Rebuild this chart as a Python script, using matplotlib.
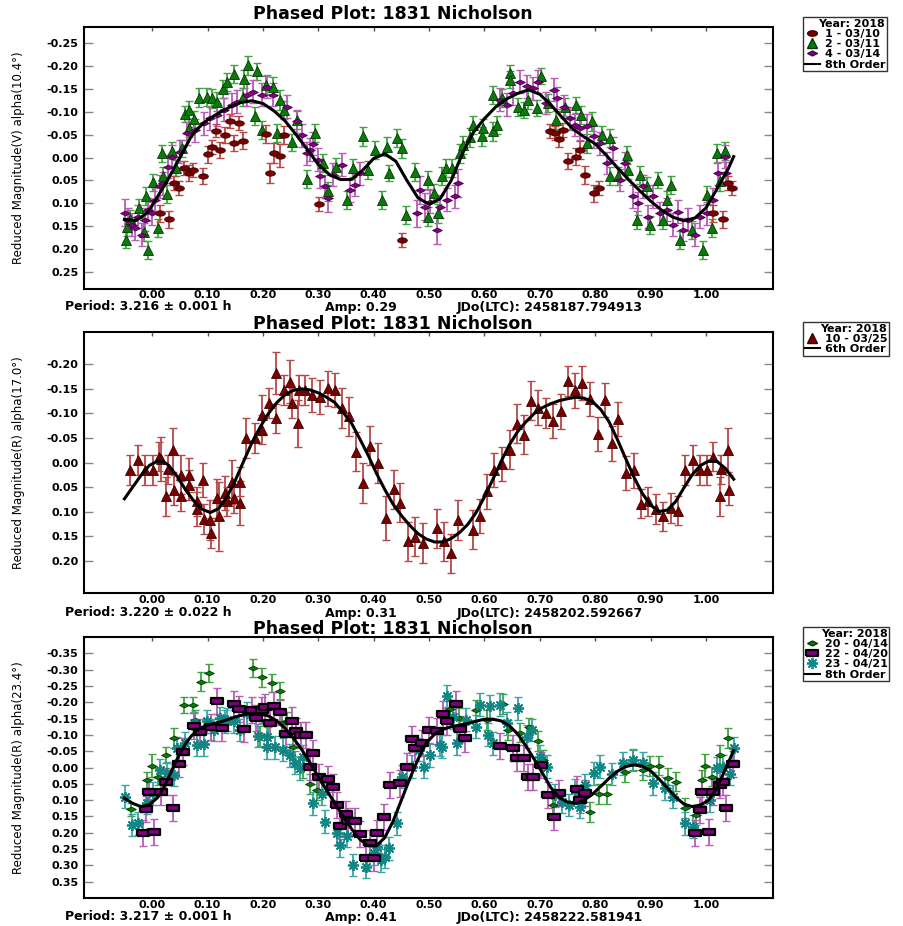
import numpy as np
import matplotlib
matplotlib.use("Agg")
import matplotlib.pyplot as plt
from matplotlib.lines import Line2D

plt.rcParams['font.family'] = ['DejaVu Sans']
plt.rcParams['font.weight'] = 'bold'

title = "Phased Plot: 1831 Nicholson"

# ---------- panel 1 (V, 10.4 deg) ----------
p1_red = [  # 1 - 03/10  (phase, mag, err)
    (0.014, 0.122, 0.018), (0.031, 0.135, 0.018), (0.039, 0.056, 0.015), (0.048, 0.067, 0.015),
    (0.057, 0.023, 0.015), (0.066, 0.034, 0.018), (0.073, 0.027, 0.015), (0.091, 0.040, 0.018),
    (0.100, -0.007, 0.018), (0.108, -0.023, 0.015), (0.123, -0.017, 0.018), (0.116, -0.059, 0.015),
    (0.132, -0.049, 0.018), (0.141, -0.080, 0.015), (0.147, -0.032, 0.018), (0.156, -0.075, 0.015),
    (0.164, -0.037, 0.018), (0.206, -0.052, 0.020), (0.213, 0.034, 0.022), (0.220, -0.009, 0.022),
    (0.230, -0.004, 0.025), (0.238, -0.049, 0.020), (0.302, 0.102, 0.015), (0.452, 0.180, 0.015),
    (0.719, -0.058, 0.015), (0.727, -0.053, 0.015), (0.735, -0.040, 0.018), (0.742, -0.060, 0.015),
    (0.750, 0.007, 0.018), (0.765, -0.002, 0.018), (0.773, -0.017, 0.020), (0.782, 0.038, 0.020),
    (0.797, 0.078, 0.018), (0.806, 0.067, 0.015), (1.013, 0.122, 0.018), (1.031, 0.135, 0.018),
    (1.039, 0.056, 0.015), (1.047, 0.067, 0.015),
]
p1_green = [  # 2 - 03/11
    (-0.048, 0.180, 0.018), (-0.046, 0.152, 0.020), (-0.040, 0.135, 0.020), (-0.023, 0.111, 0.020),
    (-0.014, 0.162, 0.020), (-0.007, 0.202, 0.020), (0.010, 0.154, 0.020), (-0.011, 0.084, 0.020),
    (0.002, 0.054, 0.018), (0.017, -0.009, 0.018), (0.035, -0.015, 0.018), (0.019, 0.040, 0.020),
    (0.026, 0.079, 0.020), (0.043, 0.023, 0.018), (0.054, -0.020, 0.018), (0.060, -0.095, 0.018),
    (0.067, -0.104, 0.020), (0.066, -0.064, 0.020), (0.075, -0.084, 0.018), (0.084, -0.131, 0.020),
    (0.099, -0.132, 0.020), (0.108, -0.129, 0.020), (0.117, -0.122, 0.020), (0.128, -0.149, 0.020),
    (0.135, -0.165, 0.020), (0.148, -0.183, 0.020), (0.165, -0.172, 0.020), (0.174, -0.201, 0.020),
    (0.189, -0.188, 0.018), (0.164, -0.132, 0.020), (0.186, -0.091, 0.020), (0.198, -0.060, 0.020),
    (0.205, -0.159, 0.020), (0.218, -0.155, 0.020), (0.226, -0.053, 0.020), (0.231, -0.126, 0.022),
    (0.238, -0.104, 0.020), (0.253, -0.033, 0.018), (0.261, -0.082, 0.020), (0.279, 0.047, 0.020),
    (0.294, -0.053, 0.020), (0.309, 0.012, 0.020), (0.318, 0.074, 0.020), (0.332, 0.020, 0.020),
    (0.351, 0.092, 0.020), (0.363, 0.023, 0.020), (0.381, -0.046, 0.020), (0.390, 0.027, 0.020),
    (0.402, -0.017, 0.020), (0.415, 0.092, 0.020), (0.424, -0.024, 0.020), (0.427, 0.034, 0.018),
    (0.442, -0.042, 0.020), (0.451, -0.020, 0.020), (0.459, 0.125, 0.020), (0.475, 0.031, 0.020),
    (0.499, 0.049, 0.020), (0.499, 0.129, 0.020), (0.509, 0.078, 0.020), (0.516, 0.122, 0.020),
    (0.523, 0.041, 0.020), (0.531, 0.023, 0.020), (0.541, 0.023, 0.020), (0.555, -0.009, 0.020),
    (0.562, -0.028, 0.020), (0.574, -0.044, 0.020), (0.580, -0.071, 0.020), (0.595, -0.046, 0.020),
    (0.597, -0.064, 0.020), (0.615, -0.057, 0.020), (0.615, -0.137, 0.020), (0.622, -0.071, 0.020),
    (0.631, -0.130, 0.020), (0.646, -0.184, 0.018), (0.646, -0.170, 0.018), (0.661, -0.111, 0.020),
    (0.672, -0.104, 0.018), (0.679, -0.126, 0.020), (0.694, -0.108, 0.018), (0.703, -0.178, 0.018),
    (0.715, -0.119, 0.020), (0.730, -0.082, 0.020), (0.745, -0.111, 0.020), (0.766, -0.115, 0.018),
    (0.775, -0.093, 0.020), (0.786, -0.031, 0.020), (0.794, -0.079, 0.020), (0.812, -0.049, 0.020),
    (0.827, -0.042, 0.020), (0.827, 0.041, 0.020), (0.842, 0.041, 0.020), (0.857, -0.006, 0.020),
    (0.860, 0.027, 0.020), (0.875, 0.136, 0.020), (0.881, 0.038, 0.020), (0.893, 0.063, 0.020),
    (0.899, 0.147, 0.020), (0.914, 0.049, 0.018), (0.922, 0.136, 0.020), (0.929, 0.092, 0.020),
    (0.936, 0.060, 0.020), (0.953, 0.180, 0.020), (0.974, 0.158, 0.020), (0.995, 0.202, 0.020),
    (1.001, 0.082, 0.020), (1.010, 0.154, 0.020), (1.019, -0.009, 0.020), (1.034, -0.015, 0.020),
    (1.025, 0.052, 0.020),
]
p1_purple = [  # 4 - 03/14
    (-0.049, 0.120, 0.030), (-0.043, 0.136, 0.025), (-0.037, 0.147, 0.025), (-0.031, 0.154, 0.025),
    (-0.025, 0.129, 0.025), (-0.019, 0.169, 0.025), (-0.013, 0.136, 0.025), (-0.007, 0.114, 0.025),
    (-0.001, 0.122, 0.025), (0.005, 0.092, 0.025), (0.014, 0.063, 0.025), (0.020, 0.056, 0.025),
    (0.029, 0.020, 0.025), (0.036, -0.002, 0.025), (0.051, -0.013, 0.025), (0.063, -0.053, 0.025),
    (0.078, -0.060, 0.025), (0.093, -0.075, 0.025), (0.105, -0.086, 0.025), (0.117, -0.093, 0.025),
    (0.129, -0.104, 0.025), (0.144, -0.115, 0.025), (0.153, -0.122, 0.025), (0.171, -0.137, 0.025),
    (0.183, -0.144, 0.025), (0.198, -0.137, 0.025), (0.207, -0.155, 0.025), (0.219, -0.137, 0.025),
    (0.243, -0.111, 0.025), (0.261, -0.079, 0.025), (0.270, -0.049, 0.025), (0.279, -0.009, 0.025),
    (0.285, -0.017, 0.025), (0.291, -0.030, 0.025), (0.300, 0.005, 0.025), (0.303, 0.041, 0.025),
    (0.312, 0.063, 0.025), (0.318, 0.089, 0.030), (0.327, 0.038, 0.025), (0.342, 0.016, 0.025),
    (0.357, 0.071, 0.025), (0.366, 0.060, 0.025), (0.375, 0.034, 0.025), (0.478, 0.122, 0.030),
    (0.484, 0.071, 0.030), (0.493, 0.107, 0.030), (0.502, 0.096, 0.025), (0.514, 0.158, 0.030),
    (0.520, 0.107, 0.025), (0.532, 0.092, 0.025), (0.547, 0.085, 0.025), (0.553, 0.056, 0.030),
    (0.628, -0.126, 0.025), (0.640, -0.115, 0.025), (0.652, -0.140, 0.025), (0.664, -0.166, 0.025),
    (0.676, -0.156, 0.025), (0.688, -0.151, 0.025), (0.697, -0.166, 0.025), (0.712, -0.119, 0.025),
    (0.725, -0.148, 0.025), (0.731, -0.130, 0.025), (0.743, -0.111, 0.025), (0.755, -0.086, 0.025),
    (0.764, -0.071, 0.025), (0.773, -0.064, 0.025), (0.785, -0.069, 0.025), (0.797, -0.046, 0.025),
    (0.809, -0.031, 0.025), (0.821, 0.012, 0.025), (0.833, -0.020, 0.025), (0.845, 0.049, 0.025),
    (0.854, 0.012, 0.025), (0.869, 0.085, 0.025), (0.878, 0.100, 0.025), (0.887, 0.063, 0.025),
    (0.896, 0.129, 0.025), (0.905, 0.085, 0.025), (0.917, 0.122, 0.025), (0.929, 0.114, 0.025),
    (0.941, 0.147, 0.025), (0.950, 0.118, 0.025), (0.959, 0.158, 0.025), (0.968, 0.136, 0.025),
    (0.980, 0.169, 0.025), (0.989, 0.129, 0.025), (1.001, 0.122, 0.025), (1.013, 0.092, 0.025),
    (1.022, 0.034, 0.025), (1.034, -0.002, 0.025), (1.037, 0.034, 0.025),
]
p1_fit_x = [-0.05, -0.03, -0.01, 0.00, 0.01, 0.02, 0.03, 0.04, 0.05, 0.06, 0.07, 0.08, 0.09, 0.10,
            0.12, 0.14, 0.16, 0.18, 0.20, 0.22, 0.24, 0.26, 0.28, 0.30, 0.32, 0.34, 0.36, 0.38,
            0.40, 0.42, 0.44, 0.46, 0.48, 0.50, 0.52, 0.54, 0.56, 0.58, 0.60, 0.62, 0.64, 0.66,
            0.68, 0.70, 0.72, 0.74, 0.76, 0.78, 0.80, 0.82, 0.84, 0.86, 0.88, 0.90, 0.92, 0.94,
            0.96, 0.98, 1.00, 1.02, 1.04, 1.05]
p1_fit_y = [0.135, 0.138, 0.122, 0.105, 0.085, 0.065, 0.045, 0.022, 0.000, -0.022, -0.045, -0.060,
            -0.072, -0.082, -0.097, -0.110, -0.120, -0.124, -0.118, -0.102, -0.080, -0.050, -0.018,
            0.015, 0.037, 0.048, 0.048, 0.028, 0.002, -0.008, 0.008, 0.050, 0.088, 0.102, 0.090,
            0.050, -0.008, -0.055, -0.085, -0.110, -0.128, -0.140, -0.148, -0.138, -0.115, -0.088,
            -0.062, -0.045, -0.030, -0.005, 0.022, 0.048, 0.072, 0.095, 0.115, 0.130, 0.138, 0.132,
            0.110, 0.068, 0.025, -0.002]

# ---------- panel 2 (R, 17.0 deg) ----------
p2_red = [  # 10 - 03/25
    (-0.040, 0.015, 0.030), (-0.025, -0.005, 0.030), (-0.013, 0.015, 0.030), (0.001, 0.015, 0.030),
    (0.013, -0.012, 0.030), (0.016, -0.007, 0.045), (0.025, 0.069, 0.040), (0.028, 0.014, 0.030),
    (0.037, -0.026, 0.045), (0.040, 0.056, 0.030), (0.053, 0.025, 0.040), (0.053, 0.068, 0.030),
    (0.067, 0.025, 0.035), (0.067, 0.046, 0.030), (0.081, 0.079, 0.030), (0.081, 0.095, 0.035),
    (0.091, 0.035, 0.035), (0.094, 0.115, 0.030), (0.105, 0.117, 0.040), (0.106, 0.144, 0.030),
    (0.117, 0.073, 0.040), (0.120, 0.110, 0.070), (0.131, 0.062, 0.035), (0.135, 0.079, 0.030),
    (0.144, 0.039, 0.045), (0.147, 0.073, 0.030), (0.158, 0.039, 0.030), (0.158, 0.082, 0.045),
    (0.170, -0.050, 0.040), (0.186, -0.050, 0.030), (0.198, -0.067, 0.030), (0.198, -0.097, 0.040),
    (0.211, -0.121, 0.030), (0.224, -0.090, 0.030), (0.224, -0.182, 0.043), (0.238, -0.148, 0.030),
    (0.249, -0.165, 0.043), (0.252, -0.121, 0.030), (0.264, -0.080, 0.048), (0.265, -0.148, 0.030),
    (0.276, -0.148, 0.030), (0.289, -0.138, 0.035), (0.303, -0.133, 0.035), (0.318, -0.151, 0.035),
    (0.330, -0.148, 0.035), (0.342, -0.111, 0.040), (0.356, -0.094, 0.040), (0.369, -0.022, 0.040),
    (0.381, 0.042, 0.040), (0.394, -0.034, 0.040), (0.407, 0.001, 0.040), (0.422, 0.113, 0.045),
    (0.436, 0.055, 0.040), (0.448, 0.082, 0.040), (0.462, 0.161, 0.040), (0.475, 0.151, 0.040),
    (0.489, 0.164, 0.040), (0.514, 0.134, 0.040), (0.527, 0.161, 0.040), (0.539, 0.185, 0.040),
    (0.553, 0.117, 0.040), (0.580, 0.137, 0.040), (0.592, 0.109, 0.035), (0.605, 0.059, 0.035),
    (0.618, 0.015, 0.035), (0.631, 0.003, 0.035), (0.646, -0.026, 0.040), (0.658, -0.079, 0.040),
    (0.671, -0.057, 0.040), (0.684, -0.126, 0.040), (0.697, -0.112, 0.035), (0.711, -0.101, 0.030),
    (0.724, -0.084, 0.035), (0.738, -0.104, 0.035), (0.750, -0.166, 0.030), (0.764, -0.147, 0.035),
    (0.777, -0.162, 0.035), (0.791, -0.130, 0.035), (0.805, -0.058, 0.035), (0.817, -0.128, 0.035),
    (0.830, -0.039, 0.035), (0.842, -0.088, 0.035), (0.856, 0.022, 0.035), (0.870, 0.016, 0.035),
    (0.883, 0.084, 0.030), (0.896, 0.079, 0.030), (0.910, 0.095, 0.030), (0.923, 0.110, 0.030),
    (0.937, 0.093, 0.030), (0.950, 0.098, 0.030), (0.963, 0.015, 0.030), (0.976, -0.005, 0.030),
    (0.989, 0.015, 0.030), (1.002, 0.015, 0.030), (1.013, -0.012, 0.030), (1.025, 0.069, 0.040),
    (1.028, 0.014, 0.030), (1.040, -0.026, 0.045), (1.042, 0.056, 0.030),
]
p2_fit_x = [-0.05, -0.035, -0.02, -0.005, 0.01, 0.02, 0.03, 0.045, 0.06, 0.075, 0.09, 0.105, 0.12,
            0.135, 0.15, 0.165, 0.18, 0.195, 0.21, 0.225, 0.24, 0.255, 0.27, 0.285, 0.30, 0.315,
            0.33, 0.345, 0.36, 0.375, 0.39, 0.405, 0.42, 0.435, 0.45, 0.465, 0.48, 0.495, 0.51,
            0.525, 0.54, 0.555, 0.57, 0.585, 0.60, 0.615, 0.63, 0.645, 0.66, 0.675, 0.69, 0.705,
            0.72, 0.735, 0.75, 0.765, 0.78, 0.795, 0.81, 0.825, 0.84, 0.855, 0.87, 0.885, 0.90,
            0.915, 0.93, 0.945, 0.96, 0.975, 0.99, 1.005, 1.02, 1.035, 1.05]
p2_fit_y = [0.074, 0.050, 0.026, 0.006, -0.003, -0.002, 0.006, 0.028, 0.055, 0.078, 0.095, 0.102,
            0.094, 0.070, 0.037, -0.002, -0.040, -0.072, -0.100, -0.122, -0.138, -0.147, -0.150,
            -0.148, -0.142, -0.133, -0.122, -0.102, -0.080, -0.048, -0.015, 0.022, 0.055, 0.085,
            0.108, 0.128, 0.145, 0.156, 0.162, 0.162, 0.155, 0.143, 0.126, 0.102, 0.070, 0.035,
            -0.002, -0.036, -0.063, -0.083, -0.100, -0.112, -0.120, -0.126, -0.130, -0.133, -0.131,
            -0.124, -0.108, -0.083, -0.047, -0.008, 0.030, 0.063, 0.087, 0.100, 0.097, 0.080,
            0.052, 0.025, 0.006, -0.003, -0.002, 0.012, 0.034]

# ---------- panel 3 (R, 23.4 deg) ----------
p3_green = [  # 20 - 04/14
    (-0.038, 0.128, 0.020), (-0.010, 0.038, 0.025), (-0.001, -0.006, 0.035), (0.010, 0.028, 0.025),
    (0.025, -0.038, 0.025), (0.040, -0.090, 0.030), (0.057, -0.192, 0.025), (0.073, -0.192, 0.025),
    (0.078, -0.146, 0.030), (0.088, -0.263, 0.030), (0.103, -0.289, 0.028), (0.183, -0.304, 0.028),
    (0.199, -0.276, 0.028), (0.216, -0.260, 0.028), (0.230, -0.234, 0.028), (0.195, -0.096, 0.030),
    (0.210, -0.095, 0.030), (0.234, -0.135, 0.030), (0.243, -0.141, 0.030), (0.255, -0.064, 0.030),
    (0.273, 0.003, 0.030), (0.285, 0.051, 0.030), (0.297, 0.069, 0.030), (0.538, -0.178, 0.030),
    (0.554, -0.151, 0.030), (0.585, -0.176, 0.030), (0.604, -0.146, 0.030), (0.633, -0.195, 0.030),
    (0.643, -0.115, 0.030), (0.664, -0.107, 0.030), (0.681, -0.123, 0.030), (0.696, -0.082, 0.030),
    (0.706, -0.023, 0.030), (0.724, 0.115, 0.030), (0.791, 0.136, 0.030), (0.806, 0.081, 0.030),
    (0.821, 0.081, 0.030), (0.854, 0.013, 0.030), (0.869, -0.023, 0.030), (0.887, 0.008, 0.030),
    (0.899, -0.005, 0.030), (0.916, -0.006, 0.030), (0.932, 0.033, 0.030), (0.946, 0.043, 0.030),
    (0.962, 0.125, 0.030), (0.982, 0.146, 0.030), (0.992, 0.038, 0.030), (0.998, -0.005, 0.035),
    (1.010, 0.028, 0.030), (1.025, -0.038, 0.030), (1.040, -0.090, 0.030),
]
p3_purple = [  # 22 - 04/20
    (-0.017, 0.202, 0.040), (-0.011, 0.128, 0.040), (0.004, 0.198, 0.040), (-0.005, 0.076, 0.040),
    (0.016, 0.076, 0.040), (0.025, 0.043, 0.040), (0.037, 0.125, 0.040), (0.048, -0.011, 0.040),
    (0.055, -0.049, 0.040), (0.076, -0.127, 0.040), (0.087, -0.110, 0.040), (0.107, -0.123, 0.040),
    (0.117, -0.205, 0.040), (0.126, -0.120, 0.040), (0.147, -0.194, 0.040), (0.156, -0.180, 0.040),
    (0.165, -0.117, 0.040), (0.180, -0.176, 0.040), (0.188, -0.153, 0.040), (0.198, -0.176, 0.040),
    (0.204, -0.184, 0.040), (0.213, -0.135, 0.040), (0.220, -0.190, 0.040), (0.231, -0.171, 0.040),
    (0.242, -0.103, 0.040), (0.252, -0.144, 0.040), (0.260, -0.113, 0.040), (0.269, -0.100, 0.040),
    (0.278, -0.100, 0.040), (0.285, -0.003, 0.040), (0.291, -0.043, 0.040), (0.302, 0.030, 0.040),
    (0.318, 0.035, 0.040), (0.326, 0.059, 0.040), (0.333, 0.115, 0.040), (0.339, 0.178, 0.040),
    (0.350, 0.143, 0.040), (0.354, 0.164, 0.040), (0.366, 0.163, 0.040), (0.375, 0.204, 0.040),
    (0.386, 0.276, 0.040), (0.393, 0.231, 0.040), (0.400, 0.276, 0.040), (0.406, 0.200, 0.040),
    (0.418, 0.151, 0.040), (0.430, 0.054, 0.040), (0.448, 0.049, 0.040), (0.461, -0.003, 0.040),
    (0.469, -0.086, 0.040), (0.475, -0.059, 0.040), (0.487, -0.076, 0.040), (0.500, -0.115, 0.040),
    (0.514, -0.112, 0.040), (0.525, -0.163, 0.040), (0.532, -0.141, 0.040), (0.549, -0.195, 0.040),
    (0.556, -0.117, 0.040), (0.565, -0.089, 0.040), (0.628, -0.066, 0.040), (0.652, -0.059, 0.040),
    (0.658, -0.028, 0.040), (0.671, -0.028, 0.040), (0.679, 0.028, 0.040), (0.688, 0.028, 0.040),
    (0.703, -0.008, 0.040), (0.715, 0.084, 0.040), (0.725, 0.153, 0.040), (0.735, 0.077, 0.040),
    (0.767, 0.067, 0.040), (0.773, 0.100, 0.040), (0.782, 0.077, 0.040), (0.980, 0.202, 0.040),
    (0.989, 0.130, 0.040), (0.992, 0.074, 0.040), (1.006, 0.198, 0.040), (1.013, 0.074, 0.040),
    (1.025, 0.054, 0.040), (1.031, 0.043, 0.040), (1.037, 0.125, 0.040), (1.048, -0.011, 0.040),
]
p3_teal = [  # 23 - 04/21
    (-0.049, 0.089, 0.035), (-0.037, 0.176, 0.035), (-0.025, 0.171, 0.035), (-0.010, 0.108, 0.035),
    (0.002, 0.079, 0.035), (0.014, 0.008, 0.035), (0.026, 0.018, 0.035), (0.039, 0.023, 0.035),
    (0.045, -0.059, 0.035), (0.060, -0.074, 0.035), (0.075, -0.135, 0.035), (0.081, -0.069, 0.035),
    (0.094, -0.071, 0.035), (0.099, -0.141, 0.035), (0.111, -0.115, 0.035), (0.123, -0.151, 0.035),
    (0.132, -0.141, 0.035), (0.135, -0.146, 0.035), (0.147, -0.141, 0.035), (0.159, -0.115, 0.035),
    (0.171, -0.166, 0.035), (0.192, -0.097, 0.035), (0.207, -0.095, 0.035), (0.207, -0.062, 0.035),
    (0.222, -0.062, 0.035), (0.237, -0.054, 0.035), (0.249, -0.038, 0.035), (0.258, -0.015, 0.035),
    (0.267, 0.003, 0.035), (0.273, -0.033, 0.035), (0.291, 0.110, 0.035), (0.306, 0.081, 0.035),
    (0.312, 0.166, 0.035), (0.333, 0.202, 0.035), (0.340, 0.238, 0.035), (0.351, 0.210, 0.035),
    (0.363, 0.299, 0.035), (0.386, 0.304, 0.035), (0.400, 0.263, 0.035), (0.406, 0.243, 0.035),
    (0.414, 0.284, 0.035), (0.421, 0.273, 0.035), (0.427, 0.248, 0.035), (0.442, 0.171, 0.035),
    (0.451, 0.028, 0.035), (0.469, -0.003, 0.035), (0.481, -0.054, 0.035), (0.490, -0.003, 0.035),
    (0.502, -0.038, 0.035), (0.519, -0.069, 0.035), (0.523, -0.064, 0.035), (0.532, -0.219, 0.035),
    (0.544, -0.154, 0.035), (0.550, -0.074, 0.035), (0.567, -0.146, 0.035), (0.585, -0.125, 0.035),
    (0.592, -0.192, 0.035), (0.607, -0.100, 0.035), (0.610, -0.187, 0.035), (0.616, -0.074, 0.035),
    (0.628, -0.192, 0.035), (0.641, -0.136, 0.035), (0.661, -0.182, 0.035), (0.676, -0.095, 0.035),
    (0.685, -0.115, 0.035), (0.701, -0.033, 0.035), (0.713, -0.003, 0.035), (0.727, 0.085, 0.035),
    (0.740, 0.105, 0.035), (0.752, 0.115, 0.035), (0.764, 0.069, 0.035), (0.773, 0.120, 0.035),
    (0.782, 0.054, 0.035), (0.797, 0.018, 0.035), (0.809, -0.003, 0.035), (0.830, 0.020, 0.035),
    (0.851, -0.013, 0.035), (0.869, -0.023, 0.035), (0.887, -0.013, 0.035), (0.905, 0.049, 0.035),
    (0.926, 0.064, 0.035), (0.941, 0.089, 0.035), (0.962, 0.171, 0.035), (0.976, 0.181, 0.035),
    (1.007, 0.100, 0.035), (1.019, 0.003, 0.035), (1.031, -0.003, 0.035), (1.043, 0.020, 0.035),
    (1.050, -0.059, 0.035),
]
p3_fit_x = [-0.05, -0.035, -0.02, -0.005, 0.01, 0.02, 0.03, 0.04, 0.05, 0.06, 0.07, 0.08, 0.09,
            0.105, 0.12, 0.135, 0.15, 0.165, 0.18, 0.195, 0.21, 0.225, 0.24, 0.255, 0.27, 0.285,
            0.30, 0.315, 0.33, 0.345, 0.36, 0.375, 0.39, 0.405, 0.42, 0.435, 0.45, 0.465, 0.48,
            0.495, 0.51, 0.525, 0.54, 0.555, 0.57, 0.585, 0.60, 0.615, 0.63, 0.645, 0.66, 0.675,
            0.69, 0.705, 0.72, 0.735, 0.75, 0.765, 0.78, 0.795, 0.81, 0.825, 0.84, 0.855, 0.87,
            0.885, 0.90, 0.915, 0.93, 0.945, 0.96, 0.975, 0.99, 1.005, 1.02, 1.035, 1.05]
p3_fit_y = [0.094, 0.110, 0.120, 0.114, 0.092, 0.064, 0.030, -0.008, -0.042, -0.072, -0.095,
            -0.112, -0.123, -0.132, -0.138, -0.146, -0.155, -0.162, -0.165, -0.164, -0.158, -0.143,
            -0.120, -0.090, -0.055, -0.015, 0.028, 0.070, 0.110, 0.150, 0.188, 0.220, 0.240, 0.240,
            0.215, 0.165, 0.100, 0.035, -0.025, -0.075, -0.102, -0.117, -0.125, -0.130, -0.135,
            -0.142, -0.148, -0.148, -0.143, -0.128, -0.103, -0.066, -0.025, 0.018, 0.062, 0.092,
            0.106, 0.110, 0.100, 0.082, 0.058, 0.033, 0.012, -0.003, -0.008, -0.004, 0.010, 0.035,
            0.062, 0.090, 0.112, 0.120, 0.115, 0.100, 0.062, 0.005, -0.052]

x_ticks = [0.0, 0.1, 0.2, 0.3, 0.4, 0.5, 0.6, 0.7, 0.8, 0.9, 1.0]

# marker shapes
t = np.linspace(0, 2 * np.pi, 25)
ellipse = list(zip(np.cos(t), 0.55 * np.sin(t)))
wide_diamond = [(-1, 0), (0, 0.5), (1, 0), (0, -0.5), (-1, 0)]
bar_rect = [(-1, -0.42), (1, -0.42), (1, 0.42), (-1, 0.42), (-1, -0.42)]

W, H = 904, 926
fig = plt.figure(figsize=(W / 100, H / 100), dpi=100)


def add_axes(top, bottom):
    return fig.add_axes([84 / W, 1 - bottom / H, (773 - 84) / W, (bottom - top) / H])


def series(ax, pts, face, edge, ecol, marker, ms, mew=0.6):
    x = [p[0] for p in pts]
    y = [p[1] for p in pts]
    e = [p[2] for p in pts]
    ax.errorbar(x, y, yerr=e, fmt='none', ecolor=ecol, elinewidth=1.3,
                capsize=2.6, capthick=1.0, zorder=2)
    ax.plot(x, y, ls='none', marker=marker, ms=ms, mfc=face, mec=edge, mew=mew, zorder=3)


def style(ax, ylim, yticks, ylabel, xpad):
    ax.set_xlim(-0.123, 1.121)
    ax.set_ylim(*ylim)
    ax.set_xticks(x_ticks)
    ax.set_xticklabels(['%.2f' % v for v in x_ticks])
    ax.set_yticks(yticks)
    ax.set_yticklabels(['%.2f' % v if abs(v) > 1e-9 else '0.00' for v in yticks])
    ax.tick_params(axis='y', which='both', direction='in', length=6.5, width=1.0,
                   right=True, labelsize=8, pad=4, color='#888888')
    ax.tick_params(axis='x', which='both', direction='in', length=3, width=1.0,
                   top=True, bottom=False, labelsize=8, pad=xpad, color='#555555')
    for lab in ax.get_xticklabels() + ax.get_yticklabels():
        lab.set_fontweight('bold')
    for s in ax.spines.values():
        s.set_linewidth(1.5)
    ax.set_ylabel(ylabel, fontsize=8.5, fontweight='normal',
                  family=['Liberation Sans Narrow', 'DejaVu Sans'])
    ax.yaxis.set_label_coords(-0.085, 0.5)


def legend(ax, top, handles, labels):
    lg = ax.legend(handles, labels, title='Year: 2018', loc='upper left',
                   bbox_to_anchor=(803 / W, 1 - top / H), bbox_transform=fig.transFigure,
                   borderaxespad=0, frameon=True, fancybox=False, fontsize=8,
                   title_fontsize=8, handlelength=1.4, handletextpad=0.4,
                   labelspacing=0.02, borderpad=0.15, alignment='right')
    lg.get_frame().set_edgecolor('black')
    lg.get_frame().set_linewidth(1.0)
    for tx in lg.get_texts():
        tx.set_fontweight('bold')
    lg.get_title().set_fontweight('bold')


def captions(y_title, y_info, period, amp, jd):
    fig.text(393 / W, 1 - y_title / H, title, ha='center', va='center',
             fontsize=12.5, fontweight='bold')
    fig.text(65 / W, 1 - y_info / H, 'Period: ' + period + ' h', ha='left', va='center',
             fontsize=9, fontweight='bold')
    fig.text(325 / W, 1 - y_info / H, 'Amp: ' + amp, ha='left', va='center',
             fontsize=9, fontweight='bold')
    fig.text(457 / W, 1 - y_info / H, 'JDo(LTC): ' + jd, ha='left', va='center',
             fontsize=9, fontweight='bold')


red_c, red_e = '#7a0000', '#b84848'
grn_c, grn_e = '#0b7a0b', '#3fa43f'
pur_c, pur_e = '#800080', '#b85cb8'
teal_c, teal_e = '#128585', '#3aa5a5'

# panel 1
ax1 = add_axes(27, 289)
series(ax1, p1_green, grn_c, '#003a00', grn_e, '^', 6.5)
series(ax1, p1_purple, pur_c, '#4a004a', pur_e, wide_diamond, 7)
series(ax1, p1_red, red_c, '#3a0000', red_e, ellipse, 7)
ax1.plot(p1_fit_x, p1_fit_y, color='black', lw=2.2, zorder=4)
style(ax1, (0.287, -0.285), [-0.25, -0.2, -0.15, -0.1, -0.05, 0.0, 0.05, 0.1, 0.15, 0.2, 0.25],
      'Reduced Magnitude(V) alpha(10.4°)', 1)
legend(ax1, 17,
       [Line2D([], [], ls='none', marker=ellipse, ms=7, mfc=red_c, mec='#3a0000'),
        Line2D([], [], ls='none', marker='^', ms=6.5, mfc=grn_c, mec='#003a00'),
        Line2D([], [], ls='none', marker=wide_diamond, ms=7, mfc=pur_c, mec='#4a004a'),
        Line2D([], [], color='black', lw=1.5)],
       ['1 - 03/10', '2 - 03/11', '4 - 03/14', '8th Order'])
captions(14, 307, '3.216 ± 0.001', '0.29', '2458187.794913')

# panel 2
ax2 = add_axes(332, 593)
series(ax2, p2_red, red_c, '#3a0000', red_e, '^', 6.5)
ax2.plot(p2_fit_x, p2_fit_y, color='black', lw=2.2, zorder=4)
style(ax2, (0.266, -0.266), [-0.2, -0.15, -0.1, -0.05, 0.0, 0.05, 0.1, 0.15, 0.2],
      'Reduced Magnitude(R) alpha(17.0°)', 1.5)
legend(ax2, 322,
       [Line2D([], [], ls='none', marker='^', ms=6.5, mfc=red_c, mec='#3a0000'),
        Line2D([], [], color='black', lw=1.5)],
       ['10 - 03/25', '6th Order'])
captions(324, 613, '3.220 ± 0.022', '0.31', '2458202.592667')

# panel 3
ax3 = add_axes(637, 898)
series(ax3, p3_green, grn_c, '#003a00', grn_e, wide_diamond, 7)
series(ax3, p3_teal, teal_c, teal_c, teal_e, (8, 2, 0), 8, mew=1.3)
series(ax3, p3_purple, pur_c, 'black', pur_e, bar_rect, 9, mew=1.6)
ax3.plot(p3_fit_x, p3_fit_y, color='black', lw=2.2, zorder=4)
style(ax3, (0.40, -0.40), [-0.35, -0.3, -0.25, -0.2, -0.15, -0.1, -0.05, 0.0, 0.05, 0.1, 0.15,
                           0.2, 0.25, 0.3, 0.35],
      'Reduced Magnitude(R) alpha(23.4°)', 1.5)
legend(ax3, 627,
       [Line2D([], [], ls='none', marker=wide_diamond, ms=7, mfc=grn_c, mec='#003a00'),
        Line2D([], [], ls='none', marker=bar_rect, ms=9, mfc=pur_c, mec='black', mew=1.6),
        Line2D([], [], ls='none', marker=(8, 2, 0), ms=8, mec=teal_c, mew=1.3),
        Line2D([], [], color='black', lw=1.5)],
       ['20 - 04/14', '22 - 04/20', '23 - 04/21', '8th Order'])
captions(629, 917, '3.217 ± 0.001', '0.41', '2458222.581941')

fig.savefig('out.png', dpi=100)
